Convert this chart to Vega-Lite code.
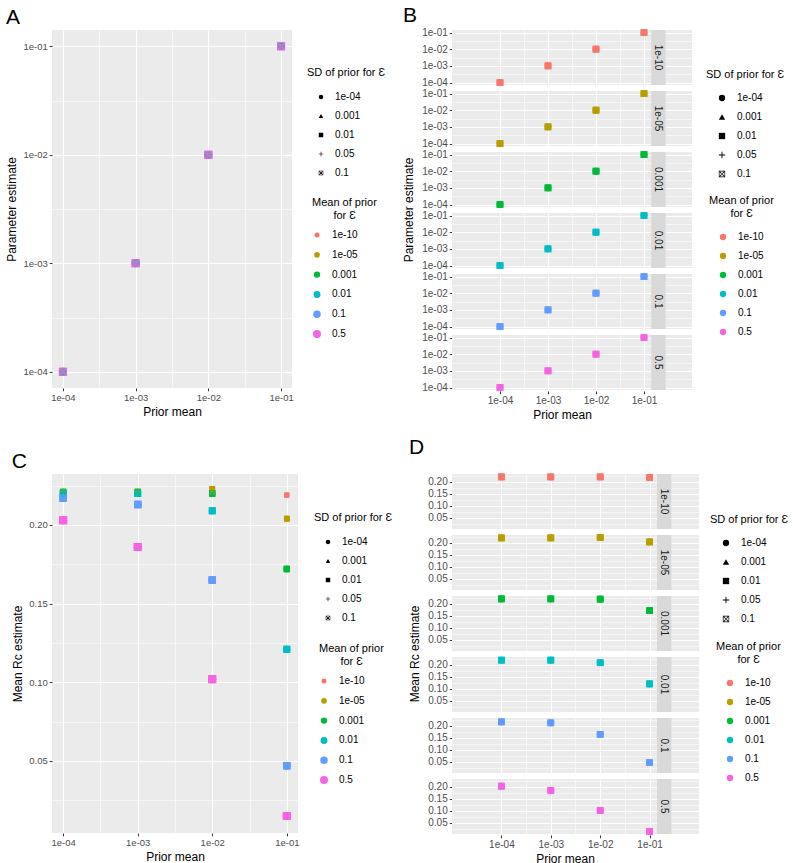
{
"$schema": "https://vega.github.io/schema/vega-lite/v6.json",
"background": "white",
"padding": {"left": 5, "top": 4, "right": 5, "bottom": 3},
"config": {
 "font": "Liberation Sans",
 "view": {"fill": "#EBEBEB", "stroke": null},
 "axis": {"domain": false, "grid": true, "gridColor": "white", "tickColor": "#333333", "tickWidth": 1, "labelColor": "#4D4D4D", "labelFontSize": 9.5, "labelPadding": 2, "labelOverlap": false, "titleColor": "black", "titleFontSize": 12, "titleFontWeight": "normal", "titlePadding": 4},
 "legend": {"orient": "none", "titleFontSize": 11, "titleFontWeight": "normal", "titleColor": "black", "labelFontSize": 10, "labelColor": "black", "padding": 0, "gridAlign": "all", "symbolStrokeWidth": 0},
 "header": {"titleFontSize": 12, "titleFontWeight": "normal", "titleColor": "black"},
 "title": {"fontSize": 21, "fontWeight": "normal", "anchor": "start", "frame": "bounds", "color": "black", "offset": 2}
},
"resolve": {"scale": {"color": "independent", "shape": "independent", "size": "independent"}, "legend": {"color": "independent", "shape": "independent", "size": "independent"}},
"datasets": {"d": [
{"sd":"1e-04","eps":"1e-10","prior":0.0001,"est":0.0001,"rc":0.221},
{"sd":"1e-04","eps":"1e-10","prior":0.001,"est":0.001,"rc":0.221},
{"sd":"1e-04","eps":"1e-10","prior":0.01,"est":0.01,"rc":0.221},
{"sd":"1e-04","eps":"1e-10","prior":0.1,"est":0.1,"rc":0.219},
{"sd":"1e-04","eps":"1e-05","prior":0.0001,"est":0.0001,"rc":0.221},
{"sd":"1e-04","eps":"1e-05","prior":0.001,"est":0.001,"rc":0.221},
{"sd":"1e-04","eps":"1e-05","prior":0.01,"est":0.01,"rc":0.223},
{"sd":"1e-04","eps":"1e-05","prior":0.1,"est":0.1,"rc":0.204},
{"sd":"1e-04","eps":"0.001","prior":0.0001,"est":0.0001,"rc":0.221},
{"sd":"1e-04","eps":"0.001","prior":0.001,"est":0.001,"rc":0.221},
{"sd":"1e-04","eps":"0.001","prior":0.01,"est":0.01,"rc":0.220},
{"sd":"1e-04","eps":"0.001","prior":0.1,"est":0.1,"rc":0.172},
{"sd":"1e-04","eps":"0.01","prior":0.0001,"est":0.0001,"rc":0.220},
{"sd":"1e-04","eps":"0.01","prior":0.001,"est":0.001,"rc":0.220},
{"sd":"1e-04","eps":"0.01","prior":0.01,"est":0.01,"rc":0.209},
{"sd":"1e-04","eps":"0.01","prior":0.1,"est":0.1,"rc":0.121},
{"sd":"1e-04","eps":"0.1","prior":0.0001,"est":0.0001,"rc":0.217},
{"sd":"1e-04","eps":"0.1","prior":0.001,"est":0.001,"rc":0.213},
{"sd":"1e-04","eps":"0.1","prior":0.01,"est":0.01,"rc":0.165},
{"sd":"1e-04","eps":"0.1","prior":0.1,"est":0.1,"rc":0.047},
{"sd":"1e-04","eps":"0.5","prior":0.0001,"est":0.0001,"rc":0.203},
{"sd":"1e-04","eps":"0.5","prior":0.001,"est":0.001,"rc":0.186},
{"sd":"1e-04","eps":"0.5","prior":0.01,"est":0.01,"rc":0.102},
{"sd":"1e-04","eps":"0.5","prior":0.1,"est":0.1,"rc":0.015},
{"sd":"0.001","eps":"1e-10","prior":0.0001,"est":0.0001,"rc":0.221},
{"sd":"0.001","eps":"1e-10","prior":0.001,"est":0.001,"rc":0.221},
{"sd":"0.001","eps":"1e-10","prior":0.01,"est":0.01,"rc":0.221},
{"sd":"0.001","eps":"1e-10","prior":0.1,"est":0.1,"rc":0.219},
{"sd":"0.001","eps":"1e-05","prior":0.0001,"est":0.0001,"rc":0.221},
{"sd":"0.001","eps":"1e-05","prior":0.001,"est":0.001,"rc":0.221},
{"sd":"0.001","eps":"1e-05","prior":0.01,"est":0.01,"rc":0.223},
{"sd":"0.001","eps":"1e-05","prior":0.1,"est":0.1,"rc":0.204},
{"sd":"0.001","eps":"0.001","prior":0.0001,"est":0.0001,"rc":0.221},
{"sd":"0.001","eps":"0.001","prior":0.001,"est":0.001,"rc":0.221},
{"sd":"0.001","eps":"0.001","prior":0.01,"est":0.01,"rc":0.220},
{"sd":"0.001","eps":"0.001","prior":0.1,"est":0.1,"rc":0.172},
{"sd":"0.001","eps":"0.01","prior":0.0001,"est":0.0001,"rc":0.220},
{"sd":"0.001","eps":"0.01","prior":0.001,"est":0.001,"rc":0.220},
{"sd":"0.001","eps":"0.01","prior":0.01,"est":0.01,"rc":0.209},
{"sd":"0.001","eps":"0.01","prior":0.1,"est":0.1,"rc":0.121},
{"sd":"0.001","eps":"0.1","prior":0.0001,"est":0.0001,"rc":0.217},
{"sd":"0.001","eps":"0.1","prior":0.001,"est":0.001,"rc":0.213},
{"sd":"0.001","eps":"0.1","prior":0.01,"est":0.01,"rc":0.165},
{"sd":"0.001","eps":"0.1","prior":0.1,"est":0.1,"rc":0.047},
{"sd":"0.001","eps":"0.5","prior":0.0001,"est":0.0001,"rc":0.203},
{"sd":"0.001","eps":"0.5","prior":0.001,"est":0.001,"rc":0.186},
{"sd":"0.001","eps":"0.5","prior":0.01,"est":0.01,"rc":0.102},
{"sd":"0.001","eps":"0.5","prior":0.1,"est":0.1,"rc":0.015},
{"sd":"0.01","eps":"1e-10","prior":0.0001,"est":0.0001,"rc":0.221},
{"sd":"0.01","eps":"1e-10","prior":0.001,"est":0.001,"rc":0.221},
{"sd":"0.01","eps":"1e-10","prior":0.01,"est":0.01,"rc":0.221},
{"sd":"0.01","eps":"1e-10","prior":0.1,"est":0.1,"rc":0.219},
{"sd":"0.01","eps":"1e-05","prior":0.0001,"est":0.0001,"rc":0.221},
{"sd":"0.01","eps":"1e-05","prior":0.001,"est":0.001,"rc":0.221},
{"sd":"0.01","eps":"1e-05","prior":0.01,"est":0.01,"rc":0.223},
{"sd":"0.01","eps":"1e-05","prior":0.1,"est":0.1,"rc":0.204},
{"sd":"0.01","eps":"0.001","prior":0.0001,"est":0.0001,"rc":0.221},
{"sd":"0.01","eps":"0.001","prior":0.001,"est":0.001,"rc":0.221},
{"sd":"0.01","eps":"0.001","prior":0.01,"est":0.01,"rc":0.220},
{"sd":"0.01","eps":"0.001","prior":0.1,"est":0.1,"rc":0.172},
{"sd":"0.01","eps":"0.01","prior":0.0001,"est":0.0001,"rc":0.220},
{"sd":"0.01","eps":"0.01","prior":0.001,"est":0.001,"rc":0.220},
{"sd":"0.01","eps":"0.01","prior":0.01,"est":0.01,"rc":0.209},
{"sd":"0.01","eps":"0.01","prior":0.1,"est":0.1,"rc":0.121},
{"sd":"0.01","eps":"0.1","prior":0.0001,"est":0.0001,"rc":0.217},
{"sd":"0.01","eps":"0.1","prior":0.001,"est":0.001,"rc":0.213},
{"sd":"0.01","eps":"0.1","prior":0.01,"est":0.01,"rc":0.165},
{"sd":"0.01","eps":"0.1","prior":0.1,"est":0.1,"rc":0.047},
{"sd":"0.01","eps":"0.5","prior":0.0001,"est":0.0001,"rc":0.203},
{"sd":"0.01","eps":"0.5","prior":0.001,"est":0.001,"rc":0.186},
{"sd":"0.01","eps":"0.5","prior":0.01,"est":0.01,"rc":0.102},
{"sd":"0.01","eps":"0.5","prior":0.1,"est":0.1,"rc":0.015},
{"sd":"0.05","eps":"1e-10","prior":0.0001,"est":0.0001,"rc":0.221},
{"sd":"0.05","eps":"1e-10","prior":0.001,"est":0.001,"rc":0.221},
{"sd":"0.05","eps":"1e-10","prior":0.01,"est":0.01,"rc":0.221},
{"sd":"0.05","eps":"1e-10","prior":0.1,"est":0.1,"rc":0.219},
{"sd":"0.05","eps":"1e-05","prior":0.0001,"est":0.0001,"rc":0.221},
{"sd":"0.05","eps":"1e-05","prior":0.001,"est":0.001,"rc":0.221},
{"sd":"0.05","eps":"1e-05","prior":0.01,"est":0.01,"rc":0.223},
{"sd":"0.05","eps":"1e-05","prior":0.1,"est":0.1,"rc":0.204},
{"sd":"0.05","eps":"0.001","prior":0.0001,"est":0.0001,"rc":0.221},
{"sd":"0.05","eps":"0.001","prior":0.001,"est":0.001,"rc":0.221},
{"sd":"0.05","eps":"0.001","prior":0.01,"est":0.01,"rc":0.220},
{"sd":"0.05","eps":"0.001","prior":0.1,"est":0.1,"rc":0.172},
{"sd":"0.05","eps":"0.01","prior":0.0001,"est":0.0001,"rc":0.220},
{"sd":"0.05","eps":"0.01","prior":0.001,"est":0.001,"rc":0.220},
{"sd":"0.05","eps":"0.01","prior":0.01,"est":0.01,"rc":0.209},
{"sd":"0.05","eps":"0.01","prior":0.1,"est":0.1,"rc":0.121},
{"sd":"0.05","eps":"0.1","prior":0.0001,"est":0.0001,"rc":0.217},
{"sd":"0.05","eps":"0.1","prior":0.001,"est":0.001,"rc":0.213},
{"sd":"0.05","eps":"0.1","prior":0.01,"est":0.01,"rc":0.165},
{"sd":"0.05","eps":"0.1","prior":0.1,"est":0.1,"rc":0.047},
{"sd":"0.05","eps":"0.5","prior":0.0001,"est":0.0001,"rc":0.203},
{"sd":"0.05","eps":"0.5","prior":0.001,"est":0.001,"rc":0.186},
{"sd":"0.05","eps":"0.5","prior":0.01,"est":0.01,"rc":0.102},
{"sd":"0.05","eps":"0.5","prior":0.1,"est":0.1,"rc":0.015},
{"sd":"0.1","eps":"1e-10","prior":0.0001,"est":0.0001,"rc":0.221},
{"sd":"0.1","eps":"1e-10","prior":0.001,"est":0.001,"rc":0.221},
{"sd":"0.1","eps":"1e-10","prior":0.01,"est":0.01,"rc":0.221},
{"sd":"0.1","eps":"1e-10","prior":0.1,"est":0.1,"rc":0.219},
{"sd":"0.1","eps":"1e-05","prior":0.0001,"est":0.0001,"rc":0.221},
{"sd":"0.1","eps":"1e-05","prior":0.001,"est":0.001,"rc":0.221},
{"sd":"0.1","eps":"1e-05","prior":0.01,"est":0.01,"rc":0.223},
{"sd":"0.1","eps":"1e-05","prior":0.1,"est":0.1,"rc":0.204},
{"sd":"0.1","eps":"0.001","prior":0.0001,"est":0.0001,"rc":0.221},
{"sd":"0.1","eps":"0.001","prior":0.001,"est":0.001,"rc":0.221},
{"sd":"0.1","eps":"0.001","prior":0.01,"est":0.01,"rc":0.220},
{"sd":"0.1","eps":"0.001","prior":0.1,"est":0.1,"rc":0.172},
{"sd":"0.1","eps":"0.01","prior":0.0001,"est":0.0001,"rc":0.220},
{"sd":"0.1","eps":"0.01","prior":0.001,"est":0.001,"rc":0.220},
{"sd":"0.1","eps":"0.01","prior":0.01,"est":0.01,"rc":0.209},
{"sd":"0.1","eps":"0.01","prior":0.1,"est":0.1,"rc":0.121},
{"sd":"0.1","eps":"0.1","prior":0.0001,"est":0.0001,"rc":0.217},
{"sd":"0.1","eps":"0.1","prior":0.001,"est":0.001,"rc":0.213},
{"sd":"0.1","eps":"0.1","prior":0.01,"est":0.01,"rc":0.165},
{"sd":"0.1","eps":"0.1","prior":0.1,"est":0.1,"rc":0.047},
{"sd":"0.1","eps":"0.5","prior":0.0001,"est":0.0001,"rc":0.203},
{"sd":"0.1","eps":"0.5","prior":0.001,"est":0.001,"rc":0.186},
{"sd":"0.1","eps":"0.5","prior":0.01,"est":0.01,"rc":0.102},
{"sd":"0.1","eps":"0.5","prior":0.1,"est":0.1,"rc":0.015}
]},
"columns": 2,
"spacing": {"row": 15, "column": 9},
"concat": [
{
 "title": "A",
 "data": {"name": "d"},
 "width": 240, "height": 358,
 "mark": {"type": "point", "filled": true, "opacity": 1},
 "encoding": {
  "x": {"field": "prior", "type": "quantitative", "title": "Prior mean", "scale": {"type": "log", "domain": [0.0000708, 0.1413]},
   "axis": {"values": [0.0001, 0.000316, 0.001, 0.00316, 0.01, 0.0316, 0.1], "labelExpr": "abs(log(datum.value)/LN10 - round(log(datum.value)/LN10)) > 0.25 ? '' : '1e-0' + (-round(log(datum.value)/LN10))", "tickSize": {"condition": {"test": "abs(log(datum.value)/LN10 - round(log(datum.value)/LN10)) > 0.25", "value": 0}, "value": 2.75}, "gridWidth": {"condition": {"test": "abs(log(datum.value)/LN10 - round(log(datum.value)/LN10)) > 0.25", "value": 0.55}, "value": 1.1}}},
  "y": {"field": "est", "type": "quantitative", "title": "Parameter estimate", "scale": {"type": "log", "domain": [0.0000708, 0.1413]},
   "axis": {"values": [0.0001, 0.000316, 0.001, 0.00316, 0.01, 0.0316, 0.1], "labelExpr": "abs(log(datum.value)/LN10 - round(log(datum.value)/LN10)) > 0.25 ? '' : '1e-0' + (-round(log(datum.value)/LN10))", "tickSize": {"condition": {"test": "abs(log(datum.value)/LN10 - round(log(datum.value)/LN10)) > 0.25", "value": 0}, "value": 2.75}, "gridWidth": {"condition": {"test": "abs(log(datum.value)/LN10 - round(log(datum.value)/LN10)) > 0.25", "value": 0.55}, "value": 1.1}}},
  "shape": {"field": "sd", "type": "nominal", "scale": {"domain": ["1e-04","0.001","0.01","0.05","0.1"], "range": ["circle","triangle-up","square","M-0.14,-1H0.14V-0.14H1V0.14H0.14V1H-0.14V0.14H-1V-0.14H-0.14Z","M-1,-1H1V1H-1ZM-0.8,-0.8V0.8H0.8V-0.8ZM-0.8,-0.6L-0.6,-0.8L0.8,0.6L0.6,0.8ZM0.8,-0.6L0.6,-0.8L-0.8,0.6L-0.6,0.8Z"]},
   "legend": {"title": "SD of prior for Ɛ", "legendX": 255, "legendY": 37, "symbolSize": 20, "symbolFillColor": "black", "symbolOffset": 9, "labelOffset": 9, "titlePadding": 14, "rowPadding": 9}},
  "color": {"field": "eps", "type": "ordinal", "scale": {"domain": ["1e-10","1e-05","0.001","0.01","0.1","0.5"], "range": ["#F8766D","#B79F00","#00BA38","#00BFC4","#619CFF","#F564E3"]},
   "legend": {"title": ["Mean of prior","\u200b\u00a0\u00a0\u00a0\u00a0\u00a0\u00a0\u00a0for Ɛ"], "legendX": 260, "legendY": 167, "labelOffset": 10, "titlePadding": 9, "rowPadding": 9.8}},
  "size": {"field": "eps", "type": "ordinal", "scale": {"domain": ["1e-10","1e-05","0.001","0.01","0.1","0.5"], "range": [25,64,100,121,169,225]}}
 }
},
{
 "title": "B",
 "data": {"name": "d"},
 "facet": {"row": {"field": "eps", "type": "ordinal", "sort": ["1e-10","1e-05","0.001","0.01","0.1","0.5"], "title": "Parameter estimate", "header": {"labels": false, "titleOrient": "left", "titlePadding": -5}}},
 "spacing": {"row": 4},
 "spec": {
  "width": 240, "height": 55,
  "layer": [
   {"mark": {"type": "point", "filled": true, "opacity": 1, "size": 45},
    "encoding": {
     "x": {"field": "prior", "type": "quantitative", "title": "Prior mean", "scale": {"type": "log", "domain": [0.0000708, 0.2818]},
      "axis": {"titleX": 110, "values": [0.0001, 0.000316, 0.001, 0.00316, 0.01, 0.0316, 0.1], "labelFontSize": 10, "labelExpr": "abs(log(datum.value)/LN10 - round(log(datum.value)/LN10)) > 0.25 ? '' : '1e-0' + (-round(log(datum.value)/LN10))", "tickSize": {"condition": {"test": "abs(log(datum.value)/LN10 - round(log(datum.value)/LN10)) > 0.25", "value": 0}, "value": 2.75}, "gridWidth": {"condition": {"test": "abs(log(datum.value)/LN10 - round(log(datum.value)/LN10)) > 0.25", "value": 0.55}, "value": 1.1}}},
     "y": {"field": "est", "type": "quantitative", "title": null, "scale": {"type": "log", "domain": [0.0000708, 0.1413]},
      "axis": {"values": [0.0001, 0.000316, 0.001, 0.00316, 0.01, 0.0316, 0.1], "labelFontSize": 10, "labelExpr": "abs(log(datum.value)/LN10 - round(log(datum.value)/LN10)) > 0.25 ? '' : '1e-0' + (-round(log(datum.value)/LN10))", "tickSize": {"condition": {"test": "abs(log(datum.value)/LN10 - round(log(datum.value)/LN10)) > 0.25", "value": 0}, "value": 2.75}, "gridWidth": {"condition": {"test": "abs(log(datum.value)/LN10 - round(log(datum.value)/LN10)) > 0.25", "value": 0.55}, "value": 1.1}}},
     "shape": {"field": "sd", "type": "nominal", "scale": {"domain": ["1e-04","0.001","0.01","0.05","0.1"], "range": ["circle","triangle-up","square","M-0.14,-1H0.14V-0.14H1V0.14H0.14V1H-0.14V0.14H-1V-0.14H-0.14Z","M-1,-1H1V1H-1ZM-0.8,-0.8V0.8H0.8V-0.8ZM-0.8,-0.6L-0.6,-0.8L0.8,0.6L0.6,0.8ZM0.8,-0.6L0.6,-0.8L-0.8,0.6L-0.6,0.8Z"]},
      "legend": {"title": "SD of prior for Ɛ", "legendX": 254, "legendY": 39, "symbolSize": 40, "symbolFillColor": "black", "symbolOffset": 11, "labelOffset": 10, "titlePadding": 13, "rowPadding": 9}},
     "color": {"field": "eps", "type": "ordinal", "scale": {"domain": ["1e-10","1e-05","0.001","0.01","0.1","0.5"], "range": ["#F8766D","#B79F00","#00BA38","#00BFC4","#619CFF","#F564E3"]},
      "legend": {"title": ["Mean of prior","\u200b\u00a0\u00a0\u00a0\u00a0\u00a0\u00a0\u00a0for Ɛ"], "legendX": 257, "legendY": 165, "symbolType": "circle", "symbolSize": 40, "symbolOffset": 9, "labelOffset": 10, "titlePadding": 13, "rowPadding": 9}}
    }},
   {"transform": [{"filter": "datum.sd == '0.01' && datum.prior == 0.1"}],
    "mark": {"type": "rect", "color": "#D9D9D9"},
    "encoding": {"x": {"datum": 0.1413, "type": "quantitative"}, "x2": {"datum": 0.2818}}},
   {"transform": [{"filter": "datum.sd == '0.01' && datum.prior == 0.1"}],
    "mark": {"type": "text", "angle": 90, "fontSize": 10, "color": "#1A1A1A", "align": "center", "baseline": "middle"},
    "encoding": {"x": {"datum": 0.1995, "type": "quantitative"}, "text": {"field": "eps"}}}
  ]
 }
},
{
 "title": "C",
 "data": {"name": "d"},
 "width": 246, "height": 359,
 "mark": {"type": "point", "filled": true, "opacity": 1},
 "encoding": {
  "x": {"field": "prior", "type": "quantitative", "title": "Prior mean", "scale": {"type": "log", "domain": [0.0000708, 0.1413]},
   "axis": {"values": [0.0001, 0.000316, 0.001, 0.00316, 0.01, 0.0316, 0.1], "labelExpr": "abs(log(datum.value)/LN10 - round(log(datum.value)/LN10)) > 0.25 ? '' : '1e-0' + (-round(log(datum.value)/LN10))", "tickSize": {"condition": {"test": "abs(log(datum.value)/LN10 - round(log(datum.value)/LN10)) > 0.25", "value": 0}, "value": 2.75}, "gridWidth": {"condition": {"test": "abs(log(datum.value)/LN10 - round(log(datum.value)/LN10)) > 0.25", "value": 0.55}, "value": 1.1}}},
  "y": {"field": "rc", "type": "quantitative", "title": "Mean Rc estimate", "scale": {"domain": [0.0042, 0.2324]},
   "axis": {"values": [0.025, 0.05, 0.075, 0.1, 0.125, 0.15, 0.175, 0.2, 0.225], "labelExpr": "abs(datum.value*20 - round(datum.value*20)) > 0.25 ? '' : format(datum.value, '.2f')", "tickSize": {"condition": {"test": "abs(datum.value*20 - round(datum.value*20)) > 0.25", "value": 0}, "value": 2.75}, "gridWidth": {"condition": {"test": "abs(datum.value*20 - round(datum.value*20)) > 0.25", "value": 0.55}, "value": 1.1}}},
  "shape": {"field": "sd", "type": "nominal", "scale": {"domain": ["1e-04","0.001","0.01","0.05","0.1"], "range": ["circle","triangle-up","square","M-0.14,-1H0.14V-0.14H1V0.14H0.14V1H-0.14V0.14H-1V-0.14H-0.14Z","M-1,-1H1V1H-1ZM-0.8,-0.8V0.8H0.8V-0.8ZM-0.8,-0.6L-0.6,-0.8L0.8,0.6L0.6,0.8ZM0.8,-0.6L0.6,-0.8L-0.8,0.6L-0.6,0.8Z"]},
   "legend": {"title": "SD of prior for Ɛ", "legendX": 262, "legendY": 38, "symbolSize": 20, "symbolFillColor": "black", "symbolOffset": 9, "labelOffset": 9, "titlePadding": 14, "rowPadding": 9}},
  "color": {"field": "eps", "type": "ordinal", "scale": {"domain": ["1e-10","1e-05","0.001","0.01","0.1","0.5"], "range": ["#F8766D","#B79F00","#00BA38","#00BFC4","#619CFF","#F564E3"]},
   "legend": {"title": ["Mean of prior","\u200b\u00a0\u00a0\u00a0\u00a0\u00a0\u00a0\u00a0for Ɛ"], "legendX": 267, "legendY": 169, "labelOffset": 10, "titlePadding": 9, "rowPadding": 9.8}},
  "size": {"field": "eps", "type": "ordinal", "scale": {"domain": ["1e-10","1e-05","0.001","0.01","0.1","0.5"], "range": [25,64,100,121,169,225]}}
 }
},
{
 "title": {"text": "D", "offset": 13},
 "data": {"name": "d"},
 "facet": {"row": {"field": "eps", "type": "ordinal", "sort": ["1e-10","1e-05","0.001","0.01","0.1","0.5"], "title": "Mean Rc estimate", "header": {"labels": false, "titleOrient": "left", "titlePadding": -5}}},
 "spacing": {"row": 4},
 "spec": {
  "width": 247, "height": 55,
  "layer": [
   {"mark": {"type": "point", "filled": true, "opacity": 1, "size": 45},
    "encoding": {
     "x": {"field": "prior", "type": "quantitative", "title": "Prior mean", "scale": {"type": "log", "domain": [0.0000708, 0.276]},
      "axis": {"titleX": 113, "values": [0.0001, 0.000316, 0.001, 0.00316, 0.01, 0.0316, 0.1], "labelFontSize": 10, "labelExpr": "abs(log(datum.value)/LN10 - round(log(datum.value)/LN10)) > 0.25 ? '' : '1e-0' + (-round(log(datum.value)/LN10))", "tickSize": {"condition": {"test": "abs(log(datum.value)/LN10 - round(log(datum.value)/LN10)) > 0.25", "value": 0}, "value": 2.75}, "gridWidth": {"condition": {"test": "abs(log(datum.value)/LN10 - round(log(datum.value)/LN10)) > 0.25", "value": 0.55}, "value": 1.1}}},
     "y": {"field": "rc", "type": "quantitative", "title": null, "scale": {"domain": [0.004, 0.233]},
      "axis": {"values": [0.025, 0.05, 0.075, 0.1, 0.125, 0.15, 0.175, 0.2, 0.225], "labelFontSize": 10, "labelExpr": "abs(datum.value*20 - round(datum.value*20)) > 0.25 ? '' : format(datum.value, '.2f')", "tickSize": {"condition": {"test": "abs(datum.value*20 - round(datum.value*20)) > 0.25", "value": 0}, "value": 2.75}, "gridWidth": {"condition": {"test": "abs(datum.value*20 - round(datum.value*20)) > 0.25", "value": 0.55}, "value": 1.1}}},
     "shape": {"field": "sd", "type": "nominal", "scale": {"domain": ["1e-04","0.001","0.01","0.05","0.1"], "range": ["circle","triangle-up","square","M-0.14,-1H0.14V-0.14H1V0.14H0.14V1H-0.14V0.14H-1V-0.14H-0.14Z","M-1,-1H1V1H-1ZM-0.8,-0.8V0.8H0.8V-0.8ZM-0.8,-0.6L-0.6,-0.8L0.8,0.6L0.6,0.8ZM0.8,-0.6L0.6,-0.8L-0.8,0.6L-0.6,0.8Z"]},
      "legend": {"title": "SD of prior for Ɛ", "legendX": 258, "legendY": 40, "symbolSize": 40, "symbolFillColor": "black", "symbolOffset": 11, "labelOffset": 10, "titlePadding": 13, "rowPadding": 9}},
     "color": {"field": "eps", "type": "ordinal", "scale": {"domain": ["1e-10","1e-05","0.001","0.01","0.1","0.5"], "range": ["#F8766D","#B79F00","#00BA38","#00BFC4","#619CFF","#F564E3"]},
      "legend": {"title": ["Mean of prior","\u200b\u00a0\u00a0\u00a0\u00a0\u00a0\u00a0\u00a0for Ɛ"], "legendX": 264, "legendY": 167, "symbolType": "circle", "symbolSize": 40, "symbolOffset": 9, "labelOffset": 10, "titlePadding": 13, "rowPadding": 9}}
    }},
   {"transform": [{"filter": "datum.sd == '0.01' && datum.prior == 0.1"}],
    "mark": {"type": "rect", "color": "#D9D9D9"},
    "encoding": {"x": {"datum": 0.1413, "type": "quantitative"}, "x2": {"datum": 0.276}}},
   {"transform": [{"filter": "datum.sd == '0.01' && datum.prior == 0.1"}],
    "mark": {"type": "text", "angle": 90, "fontSize": 10, "color": "#1A1A1A", "align": "center", "baseline": "middle"},
    "encoding": {"x": {"datum": 0.1975, "type": "quantitative"}, "text": {"field": "eps"}}}
  ]
 }
}
]
}
